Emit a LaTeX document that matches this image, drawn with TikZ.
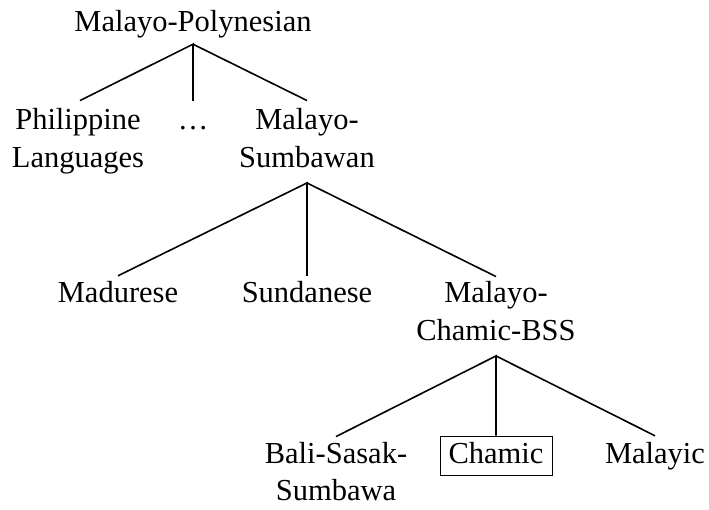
\documentclass[tikz,border=0pt]{standalone}
\usepackage{fontspec}
\setmainfont{Liberation Serif}
\newcommand{\twolines}[2]{\begin{tabular}[t]{@{}c@{}}#1\\#2\end{tabular}}
\begin{document}
\begin{tikzpicture}[x=1pt,y=-1pt,
  every node/.style={inner sep=0pt, font=\fontsize{30.5}{37.5}\selectfont},
  lbl/.style={anchor=base, text height=27pt, text depth=12pt},
  multi/.style={anchor=base},
  edge/.style={line width=1.6pt},
  boxed/.style={draw, line width=0.8pt, minimum width=112pt}]
\useasboundingbox (0,0) rectangle (709,510);
% level 1
\node[lbl] (mp) at (193,32) {Malayo-Polynesian};
% level 2
\node[multi] (phil) at (78,130) {\twolines{Philippine}{Languages}};
\node[lbl, text height=29pt] (dots) at (193,130) {…};
\node[multi] (ms) at (307,130) {\twolines{Malayo-}{Sumbawan}};
% level 3
\node[lbl] (mad) at (118,303) {Madurese};
\node[lbl] (sun) at (307,303) {Sundanese};
\node[multi] (mcb) at (496,303) {\twolines{Malayo-}{Chamic-BSS}};
% level 4
\node[multi] (bss) at (336,463) {\twolines{Bali-Sasak-}{Sumbawa}};
\node[lbl, boxed] (cham) at (496,463) {Chamic};
\node[lbl] (malc) at (655,463) {Malayic};
% edges
\draw[edge] ([xshift=2pt,yshift=3pt]phil.north) -- (mp.south) -- (dots.north);
\draw[edge] (mp.south) -- ([yshift=3pt]ms.north);
\draw[edge] (mad.north) -- ([yshift=-4pt]ms.south) -- (sun.north);
\draw[edge] ([yshift=-4pt]ms.south) -- (mcb.north);
\draw[edge] (bss.north) -- ([yshift=-4pt]mcb.south) -- (cham.north);
\draw[edge] ([yshift=-4pt]mcb.south) -- (malc.north);
\end{tikzpicture}
\end{document}
